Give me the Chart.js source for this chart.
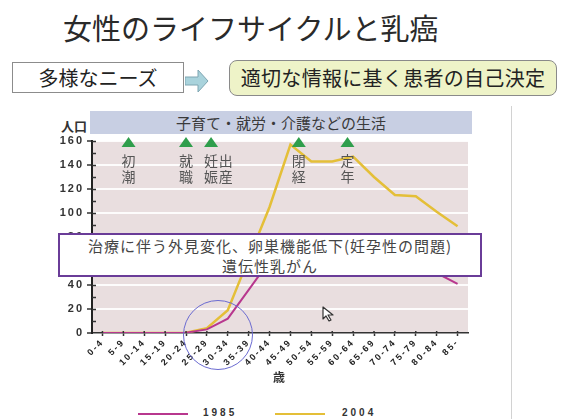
<!DOCTYPE html>
<html lang="ja">
<head>
<meta charset="utf-8">
<script src="https://cdn.jsdelivr.net/npm/chart.js@4.4.1/dist/chart.umd.min.js"></script>
<style>
  html, body { margin: 0; padding: 0; background: #fff; }
  #slide { position: relative; width: 562px; height: 419px; overflow: hidden;
           font-family: "Noto Sans CJK JP", "Noto Sans", sans-serif; color: #333; }
  .abs { position: absolute; }
  #title { left: 63px; top: 9px; font-size: 29px; line-height: 36px; color: #2a2a2a; white-space: nowrap; }
  #needs { left: 12px; top: 62px; width: 172px; height: 31px; box-sizing: border-box;
           border: 1px solid #8c8c8c; background: #fff; font-size: 20px; line-height: 29px;
           text-align: center; color: #222; }
  #decide { left: 229px; top: 60px; width: 328px; height: 36px; box-sizing: border-box;
            border: 1px solid #8a8a8a; border-radius: 8px; background: #eef3c8;
            font-size: 20px; line-height: 34px; text-align: center; color: #222; white-space: nowrap;
            letter-spacing: 0.3px; }
  #arrow { left: 185px; top: 69px; }
  #frame { left: 511px; top: 106px; width: 1px; height: 313px; background: #d2d2d2; }
  #band { left: 90px; top: 111px; width: 382px; height: 23px; background: #c8cfe3;
          font-size: 15px; line-height: 23px; text-align: center; color: #3a3a3a; z-index: 2; }
  #ylabel { left: 61px; top: 116px; font-size: 13px; font-weight: bold; color: #333; }
  #chartWrap { left: 0; top: 0; width: 562px; height: 419px; z-index: 1; }
  #note { left: 58px; top: 233px; width: 424px; height: 44px; box-sizing: border-box;
          border: 2px solid #6a3c98; background: #fff; z-index: 3;
          font-size: 15px; line-height: 20px; text-align: center; color: #444; letter-spacing: 1px; padding-top: 1px; }
  #ring { left: 183px; top: 300px; width: 70px; height: 70px; box-sizing: border-box;
          border: 1.5px solid #6a6ad0; border-radius: 50%; z-index: 4; }
  #cursor { left: 322px; top: 306px; z-index: 4; }
  .legLine { height: 2px; top: 413px; width: 50px; }
  .legText { top: 407px; font: bold 10px "Liberation Sans", sans-serif; letter-spacing: 3px; color: #333; }
</style>
</head>
<body>
<div id="slide">
  <div id="title" class="abs">女性のライフサイクルと乳癌</div>
  <div id="needs" class="abs">多様なニーズ</div>
  <svg id="arrow" class="abs" width="40" height="24" viewBox="0 0 40 24">
    <polygon points="0,8 13,8 13,1 23,12 13,23 13,16 0,16" fill="#a9d3dc" stroke="#7fa6b2" stroke-width="1"/>
  </svg>
  <div id="decide" class="abs">適切な情報に基く患者の自己決定</div>
  <div id="frame" class="abs"></div>
  <div id="band" class="abs">子育て・就労・介護などの生活</div>
  <div id="ylabel" class="abs">人口</div>
  <div id="chartWrap" class="abs"><canvas id="c" width="562" height="419"></canvas></div>
  <div id="note" class="abs">治療に伴う外見変化、卵巣機能低下(妊孕性の問題)<br>遺伝性乳がん</div>
  <div id="ring" class="abs"></div>
  <svg id="cursor" class="abs" width="16" height="17" viewBox="0 0 16 17">
    <polygon points="1,1 1,13 4,10 7,15 9,14 6,9 11,9" fill="#fff" stroke="#333" stroke-width="1.2" stroke-linejoin="round"/>
  </svg>
  <div id="legend"></div>
</div>

<script>
// Age groups (x axis)
const ageGroups = ['0-4', '5-9', '10-14', '15-19', '20-24', '25-29', '30-34', '35-39', '40-44',
                   '45-49', '50-54', '55-59', '60-64', '65-69', '70-74', '75-79', '80-84', '85-'];

// Breast cancer incidence by age group
const series1985 = [0, 0, 0, 0, 0.3, 3, 12, 36, 60, 72, 68, 62, 58, 56, 54, 52, 50, 41];
const series2004 = [0, 0, 0, 0, 0.3, 4, 19, 62, 105, 157, 143, 143, 147, 130, 115, 114, 101, 89];

const seriesNames = ['1985', '2004'];
const seriesColors = ['#b8378e', '#e4bf38'];

// Life events, placed along the age axis (in age-group units)
const lifeEvents = ['初潮', '就職', '妊娠', '出産', '閉経', '定年'];
const lifeEventAt = [1.25, 4.0, 5.2, 5.9, 9.4, 11.73];
const lifeEventMarked = [true, true, true, false, true, true];

// Legend built from the series
const legend = document.getElementById('legend');
const legendLineX = [138, 275];
const legendTextX = [203, 342];
seriesNames.forEach((name, i) => {
  const l = document.createElement('div');
  l.className = 'abs legLine';
  l.style.left = legendLineX[i] + 'px';
  l.style.background = seriesColors[i];
  legend.appendChild(l);
  const t = document.createElement('div');
  t.className = 'abs legText';
  t.style.left = legendTextX[i] + 'px';
  t.textContent = name;
  legend.appendChild(t);
});

const SPACING = '2px';

const decor = {
  id: 'decor',
  beforeUpdate(chart) { chart.ctx.letterSpacing = SPACING; },
  beforeDraw(chart) {
    const { ctx, chartArea: a } = chart;
    ctx.letterSpacing = SPACING;
    ctx.save();
    ctx.fillStyle = '#e9dedf';
    ctx.fillRect(a.left, a.top, a.right - a.left, a.bottom - a.top);
    ctx.restore();
  },
  afterDraw(chart) {
    const { ctx, chartArea: a, scales: { x, y } } = chart;
    ctx.save();
    ctx.strokeStyle = '#333';
    ctx.lineWidth = 1.5;
    // inner half of the y-axis tick marks
    for (let v = 10; v <= 160; v += 10) {
      const py = Math.round(y.getPixelForValue(v)) + 0.5;
      ctx.beginPath(); ctx.moveTo(a.left, py); ctx.lineTo(a.left + 4, py); ctx.stroke();
    }
    // small marks above the x axis
    ageGroups.forEach((_, i) => {
      const px = x.getPixelForValue(i);
      ctx.beginPath(); ctx.moveTo(px, a.bottom - 2); ctx.lineTo(px, a.bottom); ctx.stroke();
    });
    // life events: triangle and vertical label
    ctx.letterSpacing = '0px';
    lifeEvents.forEach((name, i) => {
      const px = x.getPixelForValue(lifeEventAt[i]);
      if (lifeEventMarked[i]) {
        ctx.fillStyle = '#2f9e4c';
        ctx.beginPath();
        ctx.moveTo(px, a.top - 4);
        ctx.lineTo(px + 7, a.top + 6);
        ctx.lineTo(px - 7, a.top + 6);
        ctx.closePath();
        ctx.fill();
      }
      ctx.fillStyle = '#555';
      ctx.font = '14px "Noto Sans CJK JP"';
      ctx.textAlign = 'center';
      ctx.textBaseline = 'middle';
      [...name].forEach((ch, k) => ctx.fillText(ch, px, a.top + 20 + k * 16));
    });
    ctx.restore();
  }
};

new Chart(document.getElementById('c'), {
  type: 'line',
  data: {
    labels: ageGroups,
    datasets: [
      { label: seriesNames[0], data: series1985, borderColor: seriesColors[0], borderWidth: 2,
        pointRadius: 0, tension: 0, fill: false },
      { label: seriesNames[1], data: series2004, borderColor: seriesColors[1], borderWidth: 2.5,
        pointRadius: 0, tension: 0, fill: false }
    ]
  },
  options: {
    responsive: false,
    animation: false,
    events: [],
    layout: { padding: { left: 0, right: 94, top: 141, bottom: 30 } },
    plugins: { legend: { display: false }, tooltip: { enabled: false } },
    scales: {
      x: {
        offset: true,
        afterFit(s) { s.height = 56; },
        grid: { drawOnChartArea: false, tickLength: 3, tickColor: '#333', tickWidth: 1.5 },
        border: { color: '#333', width: 1.5 },
        ticks: { autoSkip: false, minRotation: 45, maxRotation: 45, padding: 1,
                 color: '#222', font: { family: 'Liberation Sans', size: 9, weight: 'bold' } },
        title: { display: true, text: '歳', color: '#333', padding: { top: 2, bottom: 4 },
                 font: { family: 'Noto Sans CJK JP', size: 12, weight: 'bold' } }
      },
      y: {
        min: 0, max: 160,
        afterFit(s) { s.width = 92; },
        grid: {
          color: c => (c.tick && c.tick.value > 0 && c.tick.value % 20 === 0) ? 'rgba(255,255,255,0.9)' : 'rgba(0,0,0,0)',
          lineWidth: 2, tickLength: 5, tickColor: '#333', tickWidth: 1.5
        },
        border: { color: '#222', width: 2 },
        ticks: {
          stepSize: 10, padding: 3, color: '#333',
          font: { family: 'Liberation Sans', size: 11, weight: 'bold' },
          callback: v => (v % 20 === 0 ? v : '')
        }
      }
    }
  },
  plugins: [decor]
});
</script>
</body>
</html>
